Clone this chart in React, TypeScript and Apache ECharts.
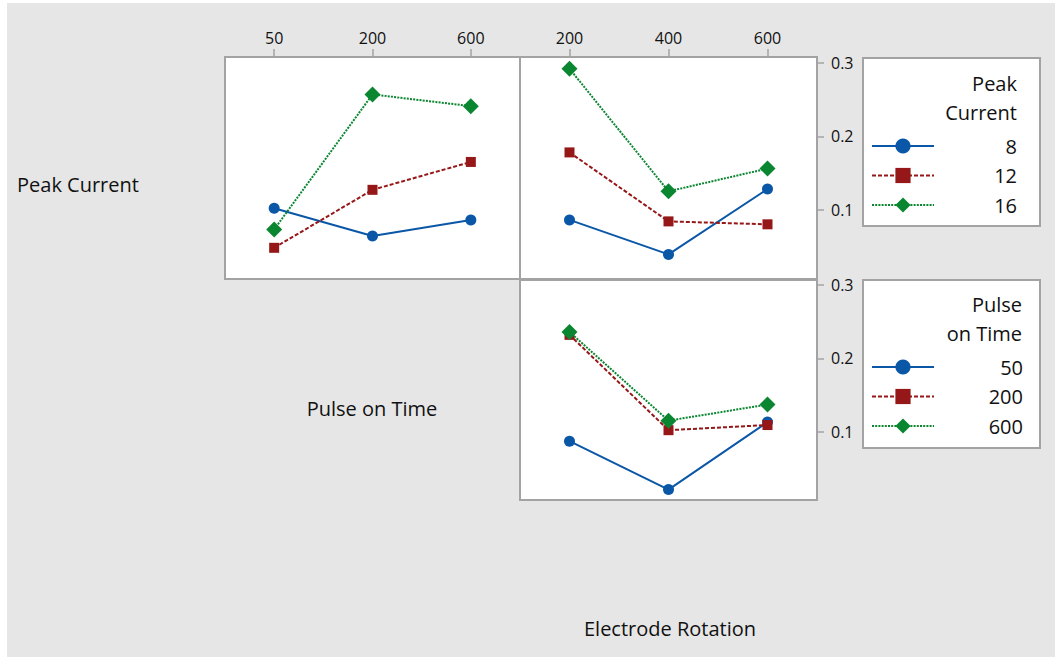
import { useEffect, useRef } from 'react';
import * as echarts from 'echarts';

// Factor levels
const pulseLevels = ['50', '200', '600'];
const rotationLevels = ['200', '400', '600'];
const peakLevels = ['8', '12', '16'];
const yTickValues = [0.1, 0.2, 0.3];

// Peak Current x Pulse on Time (top-left panel), one array per Peak Current level
const pc8ByPulse = [0.102, 0.064, 0.086];
const pc12ByPulse = [0.048, 0.127, 0.165];
const pc16ByPulse = [0.073, 0.257, 0.241];

// Peak Current x Electrode Rotation (top-right panel)
const pc8ByRotation = [0.086, 0.039, 0.128];
const pc12ByRotation = [0.178, 0.084, 0.080];
const pc16ByRotation = [0.292, 0.125, 0.156];

// Pulse on Time x Electrode Rotation (bottom-right panel), one array per Pulse on Time level
const pt50ByRotation = [0.087, 0.021, 0.113];
const pt200ByRotation = [0.232, 0.102, 0.109];
const pt600ByRotation = [0.236, 0.115, 0.137];

const FONT = '"Open Sans", "Noto Sans", sans-serif';
const WEIGHT = 500;
const TEXT = '#111111';
const BORDER = '#a3a3a3';
const colors = ['#0b57a7', '#961717', '#0a8630'];
const symbols = ['circle', 'rect', 'diamond'];
const symbolSizes = [11, 10, 16];
const lineTypes: any[] = ['solid', [4, 2], [2, 1.2]];

function makeSeries(names: string[], values: number[][], axisIndex: number) {
  return values.map((vals, i) => ({
    type: 'line',
    name: names[i],
    xAxisIndex: axisIndex,
    yAxisIndex: axisIndex,
    data: vals,
    symbol: symbols[i],
    symbolSize: symbolSizes[i],
    showSymbol: true,
    color: colors[i],
    itemStyle: { color: colors[i] },
    lineStyle: { color: colors[i], width: 2, type: lineTypes[i] },
    emphasis: { disabled: true },
    z: 2 + i,
  }));
}

function legendFor(data: string[], top: number, textWidth: number) {
  return {
    orient: 'vertical',
    left: 871,
    top,
    padding: 0,
    itemWidth: 62,
    itemHeight: 19,
    itemGap: 9.5,
    selectedMode: false,
    data,
    formatter: (n: string) => `{v|${n}}`,
    textStyle: {
      rich: {
        v: {
          width: textWidth,
          align: 'right',
          fontSize: 20,
          fontWeight: WEIGHT,
          lineHeight: 19,
          fontFamily: FONT,
          color: TEXT,
        },
      },
    },
  };
}

function txt(text: string, x: number, y: number, align: string, size = 20) {
  return {
    type: 'text',
    x,
    y,
    z: 5,
    style: {
      text,
      x: 0,
      y: 0,
      fill: TEXT,
      font: `${WEIGHT} ${size}px ${FONT}`,
      align,
      verticalAlign: 'middle',
      textAlign: align,
      textVerticalAlign: 'middle',
    },
  };
}

function xAxisTop(gridIndex: number, data: string[]) {
  return {
    type: 'category',
    gridIndex,
    data,
    position: 'top',
    boundaryGap: true,
    axisLine: { show: false },
    axisTick: { show: true, alignWithLabel: true, length: 8, lineStyle: { color: BORDER, width: 1.5 } },
    axisLabel: { margin: 11, fontSize: 16, fontWeight: WEIGHT, fontFamily: FONT, color: TEXT },
    splitLine: { show: false },
  };
}

function yAxisRight(gridIndex: number, min: number, max: number) {
  return {
    type: 'value',
    gridIndex,
    position: 'right',
    min,
    max,
    axisLine: { show: false },
    axisTick: { show: true, length: 7, customValues: yTickValues, lineStyle: { color: BORDER, width: 1.5 } },
    axisLabel: {
      margin: 14,
      fontSize: 16,
      fontWeight: WEIGHT,
      fontFamily: FONT,
      color: TEXT,
      customValues: yTickValues,
      formatter: (v: number) => v.toFixed(1),
    },
    splitLine: { show: false },
  };
}

export default function App() {
  const ref = useRef<HTMLDivElement>(null);

  useEffect(() => {
    if (!ref.current) return;
    const chart = echarts.init(ref.current, undefined, { renderer: 'svg' });
    const gridStyle = { show: true, backgroundColor: '#ffffff', borderColor: BORDER, borderWidth: 2 };
    const topMin = 0.0055;
    const topMax = 0.308;
    const botMin = 0.0068;
    const botMax = 0.3068;
    const option: any = {
      animation: false,
      grid: [
        { ...gridStyle, left: 225, top: 57, width: 295, height: 222 },
        { ...gridStyle, left: 520, top: 57, width: 297, height: 222 },
        { ...gridStyle, left: 520, top: 280, width: 297, height: 220 },
      ],
      xAxis: [
        xAxisTop(0, pulseLevels),
        xAxisTop(1, rotationLevels),
        { type: 'category', gridIndex: 2, data: rotationLevels, boundaryGap: true, show: false },
      ],
      yAxis: [
        { type: 'value', gridIndex: 0, min: topMin, max: topMax, show: false, splitLine: { show: false } },
        yAxisRight(1, topMin, topMax),
        yAxisRight(2, botMin, botMax),
      ],
      legend: [legendFor(peakLevels, 136, 78), legendFor(pulseLevels, 357, 84)],
      graphic: [
        {
          type: 'rect',
          z: 0,
          shape: { x: 863, y: 58, width: 177, height: 168 },
          style: { fill: '#ffffff', stroke: BORDER, lineWidth: 2 },
        },
        {
          type: 'rect',
          z: 0,
          shape: { x: 863, y: 280, width: 177, height: 168 },
          style: { fill: '#ffffff', stroke: BORDER, lineWidth: 2 },
        },
        txt('Peak', 1017, 83, 'right'),
        txt('Current', 1017, 112, 'right'),
        txt('Pulse', 1022, 304, 'right'),
        txt('on Time', 1022, 333, 'right'),
        txt('Peak Current', 17, 184, 'left'),
        txt('Pulse on Time', 372, 408, 'center'),
        txt('Electrode Rotation', 670, 628, 'center'),
      ],
      series: [
        ...makeSeries(peakLevels, [pc8ByPulse, pc12ByPulse, pc16ByPulse], 0),
        ...makeSeries(peakLevels, [pc8ByRotation, pc12ByRotation, pc16ByRotation], 1),
        ...makeSeries(pulseLevels, [pt50ByRotation, pt200ByRotation, pt600ByRotation], 2),
      ],
    };
    chart.setOption(option);
    return () => chart.dispose();
  }, []);

  return (
    <div style={{ position: 'absolute', left: 0, top: 0, width: 1055, height: 657, background: '#ffffff' }}>
      <div style={{ position: 'absolute', left: 7, top: 3, right: 0, bottom: 0, background: '#e6e6e6' }} />
      <div ref={ref} style={{ position: 'absolute', left: 0, top: 0, width: 1055, height: 657 }} />
    </div>
  );
}
